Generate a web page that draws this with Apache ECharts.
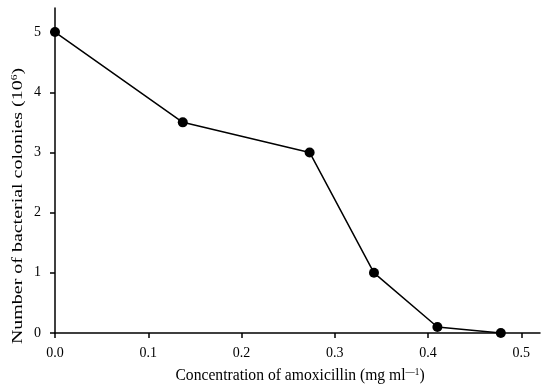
<!DOCTYPE html>
<html>
<head>
<meta charset="utf-8">
<script src="https://cdn.jsdelivr.net/npm/echarts@6/dist/echarts.min.js"></script>
<style>
  html, body {margin: 0; padding: 0; background: #fff;}
  #chart {width: 542px; height: 388px;}
</style>
</head>
<body>
<div id="chart"></div>
<script>
const concentration = [0, 0.137, 0.273, 0.342, 0.41, 0.478];
const colonies = [5, 3.5, 3.0, 1.0, 0.1, 0];
const xTicks = [0, 0.1, 0.2, 0.3, 0.4, 0.5];
const yTicks = [0, 1, 2, 3, 4, 5];

const font = 'Liberation Serif, Times New Roman, serif';
const chart = echarts.init(document.getElementById('chart'));
chart.setOption({
  animation: false,
  grid: {left: 55, right: 2, top: 8, bottom: 55},
  xAxis: {
    type: 'value',
    min: 0,
    max: 0.52,
    splitLine: {show: false},
    axisLine: {lineStyle: {color: '#000', width: 1.5}},
    axisTick: {customValues: xTicks, length: 5, lineStyle: {color: '#000', width: 1.5}},
    axisLabel: {
      customValues: xTicks,
      color: '#000', fontFamily: font, fontSize: 14, margin: 13,
      formatter: v => v.toFixed(1)
    }
  },
  yAxis: {
    type: 'value',
    min: 0,
    max: 5.4,
    splitLine: {show: false},
    axisLine: {show: true, lineStyle: {color: '#000', width: 1.5}},
    axisTick: {show: true, customValues: yTicks, length: 5, lineStyle: {color: '#000', width: 1.5}},
    axisLabel: {
      customValues: yTicks,
      color: '#000', fontFamily: font, fontSize: 14, margin: 14
    }
  },
  graphic: [
    {
      type: 'text',
      x: 300, y: 376,
      scaleX: 0.92,
      style: {
        text: 'Concentration of amoxicillin (mg ml{s|—1})',
        fontFamily: font, fontSize: 17, fill: '#000',
        align: 'center', verticalAlign: 'middle',
        rich: {s: {fontFamily: font, fontSize: 10, padding: [0, 0, 8, 0]}}
      }
    },
    {
      type: 'text',
      x: 18, y: 206,
      rotation: Math.PI / 2,
      scaleX: 1.05,
      scaleY: 0.8,
      style: {
        text: 'Number of bacterial colonies (10{s|6})',
        fontFamily: font, fontSize: 19, fill: '#000',
        align: 'center', verticalAlign: 'middle',
        rich: {s: {fontFamily: font, fontSize: 11, padding: [0, 0, 9, 0]}}
      }
    }
  ],
  series: [{
    type: 'line',
    data: concentration.map((c, i) => [c, colonies[i]]),
    symbol: 'circle',
    symbolSize: 10,
    lineStyle: {color: '#000', width: 1.5},
    itemStyle: {color: '#000'}
  }]
});
</script>
</body>
</html>
